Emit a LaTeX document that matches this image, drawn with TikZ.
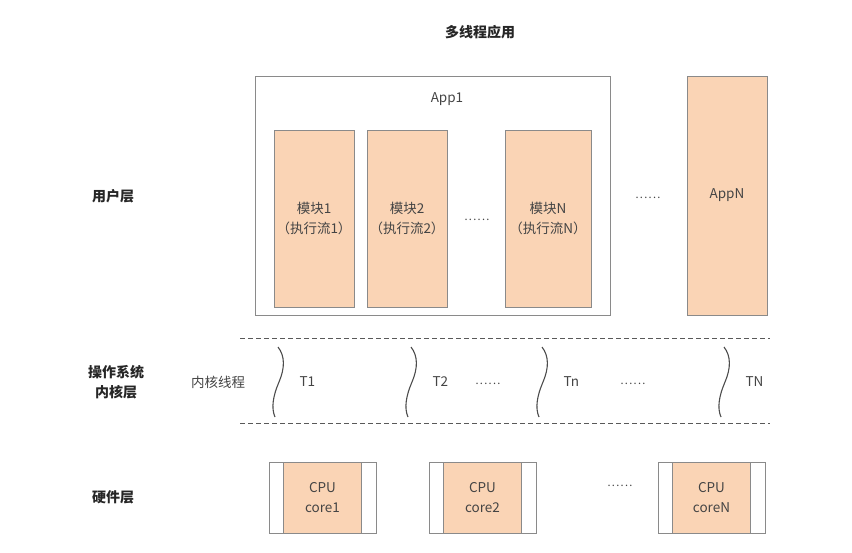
\documentclass[tikz,border=0pt]{standalone}
\usepackage{fontspec}
\setmainfont{Noto Sans CJK SC}
\definecolor{peach}{HTML}{FAD4B5}
\definecolor{txtgray}{HTML}{444444}
\definecolor{linegray}{HTML}{8A8A8A}
\newcommand{\sixdots}{.\kern1.3pt.\kern1.3pt.\kern1.3pt.\kern1.3pt.\kern1.3pt.}

\begin{document}
\begin{tikzpicture}[x=1pt, y=-1pt,
				box/.style={draw=linegray, line width=0.8pt, inner sep=0pt, align=center, text=txtgray, font=\fontsize{13.5}{19.5}\selectfont},
				module/.style={box, fill=peach, minimum width=80pt, minimum height=177pt},
				core/.style={box, fill=peach, minimum width=78pt, minimum height=71pt},
				slot/.style={box, fill=white, minimum width=107pt, minimum height=71pt},
				layer/.style={font=\fontsize{14}{20}\selectfont\bfseries, text=black!85, align=center},
				plain/.style={font=\fontsize{13.5}{19}\selectfont, text=txtgray},
				more/.style={font=\fontsize{11}{14}\selectfont, text=txtgray, anchor=base, inner sep=0pt},
				sep/.style={dashed, dash pattern=on 5pt off 3pt, line width=0.9pt, draw=black!65},
				wave/.style={line width=1.1pt, draw=black!70}
				]
				\useasboundingbox (0,0) rectangle (852,553);
				
				\node[layer] (title) at (480,32) {多线程应用};
				
				% user layer
				\node[layer] (user) at (113,196) {用户层};
				\node[box, minimum width=355pt, minimum height=239pt] (app1) at (432.5,195.5) {};
				\node[plain] (app1lbl) at (447,99) {App1};
				
				\node[module] (m1) at (314,218.5) {模块1\\（执行流1）};
				\node[module] (m2) at (407,218.5) {模块2\\（执行流2）};
				\node[module, minimum width=86pt] (mN) at (548,218.5) {模块N\\（执行流N）};
				\node[more] (mdots) at (477,221) {\sixdots};
				
				\node[more] (adots) at (648,199) {\sixdots};
				\node[box, fill=peach, minimum width=80pt, minimum height=239pt] (appN) at (727,195.5) {AppN};
				
				% kernel layer
				\coordinate (topL) at (240,338);
				\coordinate (topR) at (770,338);
				\coordinate (botL) at (240,423);
				\coordinate (botR) at (770,423);
				\draw[sep] (topL) -- (topR);
				\draw[sep] (botL) -- (botR);
				
				\node[layer] (kernel) at (116,382) {操作系统\\内核层};
				\node[plain] (kthread) at (218,382) {内核线程};
				
				\foreach \x/\t/\n in {278/T1/t1, 411/T2/t2, 542/Tn/tn, 724/TN/tN} {
					\draw[wave] (\x,347) .. controls (\x+7,356) and (\x+7,368) .. (\x+1,382)
						.. controls (\x-5,396) and (\x-7,408) .. (\x-3,417);
					\node[plain, anchor=west] (\n) at (\x+18,382) {\t};
				}
				\node[more] (tdots1) at (488,385) {\sixdots};
				\node[more] (tdots2) at (633,385) {\sixdots};
				
				% hardware layer
				\node[layer] (hw) at (113,497) {硬件层};
				\foreach \x/\c/\n in {322.5/core1/c1, 482.5/core2/c2, 711.5/coreN/cN} {
					\node[slot] (s\n) at (\x,497.5) {};
					\node[core] (\n) at (\x,497.5) {CPU\\\c};
				}
				\node[more] (cdots) at (620,486) {\sixdots};
			\end{tikzpicture}
\end{document}
